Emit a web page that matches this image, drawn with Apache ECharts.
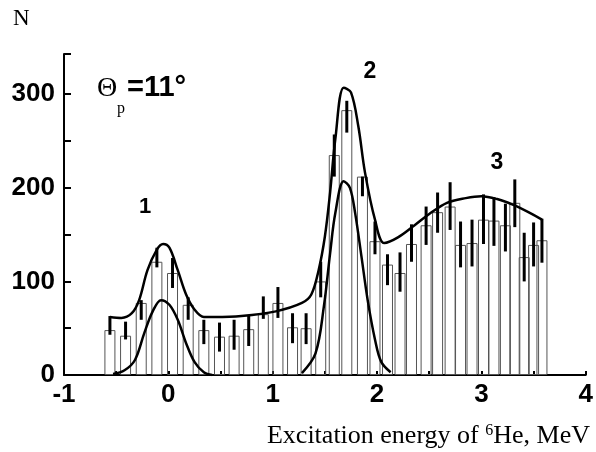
<!DOCTYPE html>
<html><head><meta charset="utf-8">
<script src="https://cdn.jsdelivr.net/npm/echarts@6/dist/echarts.min.js"></script>
<style>html,body{margin:0;padding:0;background:#fff}#c{width:596px;height:452px}</style>
</head><body><div id="c"></div>
<script>
// Histogram bins (MeV) and counts
const energy = [-0.56,-0.41,-0.26,-0.11,0.04,0.19,0.34,0.49,0.63,0.77,0.91,1.05,1.19,1.32,1.46,1.59,1.71,1.86,1.98,2.10,2.22,2.33,2.47,2.58,2.70,2.80,2.91,3.02,3.12,3.23,3.32,3.41,3.50,3.58];
const counts = [48,42,77,121,109,75,48,41,42,49,65,77,51,50,100,235,283,212,143,118,109,140,160,174,180,139,141,166,165,160,184,126,139,144];
// Error bar extents
const errLow  = [43,38,59,115,93,59,33,25,27,31,60,61,34,33,83,212,259,191,129,96,89,121,139,152,155,115,116,140,138,132,158,100,116,120];
const errHigh = [63,57,80,136,125,83,59,56,59,64,84,94,66,66,121,257,293,212,164,129,131,161,180,195,206,164,166,193,190,183,209,152,163,167];
// Total fit curve
const totalX = [-0.56,-0.45,-0.35,-0.28,-0.2,-0.11,-0.05,0.01,0.09,0.17,0.25,0.34,0.44,0.7,1.03,1.28,1.37,1.44,1.5,1.55,1.6,1.68,1.75,1.82,1.885,1.98,2.07,2.2,2.36,2.5,2.67,2.85,3.0,3.15,3.3,3.45,3.58];
const totalY = [62,61,66,80,112,134,140,136,112,86,70,62,62,63,68,77,86,112,148,195,252,307,302,266,216,166,141,147,160,172,184,189,191,188,182,174,166];
// Peak 1 component
const peak1X = [-0.53,-0.42,-0.32,-0.23,-0.15,-0.07,0.01,0.09,0.17,0.25,0.34,0.42];
const peak1Y = [1,5,16,45,68,80,75,59,34,14,3,0];
// Peak 2 component
const peak2X = [1.28,1.41,1.49,1.55,1.60,1.68,1.74,1.79,1.85,1.91,1.98,2.04,2.13];
const peak2Y = [2,23,73,130,173,207,200,173,127,80,38,14,3];
// Axis tick labels
const xLabels = ['-1','0','1','2','3','4'];
const yLabels = ['0','100','200','300'];

const zip = (a,b) => a.map((v,i)=>[v,b[i]]);
const chart = echarts.init(document.getElementById('c'), null, {renderer:'canvas'});
const boldFont = 'Liberation Sans, Arial, sans-serif';
const serif = 'Liberation Serif, Times New Roman, serif';

chart.setOption({
  animation:false,
  backgroundColor:'#fff',
  grid:{left:64,right:7,top:54,bottom:77,containLabel:false},
  xAxis:{type:'value',min:-1,max:4,interval:0.5,
    axisLine:{onZero:false,lineStyle:{color:'#000',width:2}},
    axisTick:{inside:true,length:4,lineStyle:{color:'#000',width:2}},
    splitLine:{show:false},
    axisLabel:{margin:7,fontFamily:boldFont,fontWeight:'bold',fontSize:26,color:'#000',
      formatter:v=>{const s=String(Math.round(v)); return (Math.abs(v-Math.round(v))<1e-6 && xLabels.includes(s))?s:'';}}
  },
  yAxis:{type:'value',min:0,max:343,interval:50,
    axisLine:{show:true,onZero:false,lineStyle:{color:'#000',width:2}},
    axisTick:{inside:true,length:7,lineStyle:{color:'#000',width:2}},
    splitLine:{show:false},
    axisLabel:{margin:9,fontFamily:boldFont,fontWeight:'bold',fontSize:26,color:'#000',
      formatter:v=>yLabels.includes(String(v))?String(v):''}
  },
  series:[
    {type:'bar',data:zip(energy,counts),barWidth:11,z:1,
      itemStyle:{color:'rgba(255,255,255,0)',borderColor:'#555',borderWidth:1}},
    {type:'line',data:zip(totalX,totalY),smooth:0.35,showSymbol:false,z:3,
      lineStyle:{color:'#000',width:2.5}},
    {type:'line',data:zip(peak1X,peak1Y),smooth:0.35,showSymbol:false,z:3,
      lineStyle:{color:'#000',width:2.5}},
    {type:'line',data:zip(peak2X,peak2Y),smooth:0.35,showSymbol:false,z:3,
      lineStyle:{color:'#000',width:2.5}},
    {type:'custom',z:4,data:energy.map((x,i)=>[x,errLow[i],errHigh[i]]),
      encode:{x:0,y:[1,2]},
      renderItem:(params,api)=>{
        const p1=api.coord([api.value(0),api.value(1)]);
        const p2=api.coord([api.value(0),api.value(2)]);
        return {type:'line',shape:{x1:p1[0],y1:p1[1],x2:p2[0],y2:p2[1]},style:{stroke:'#000',lineWidth:3}};
      }}
  ],
  graphic:[
    {type:'text',x:13,y:7,style:{text:'N',font:'23px '+serif,fill:'#000'}},
    {type:'text',x:97,y:75,style:{text:'Θ',font:'28px '+serif,fill:'#000'}},
    {type:'text',x:117,y:101,style:{text:'p',font:'16px '+serif,fill:'#000'}},
    {type:'text',x:127,y:73,style:{text:'=11°',font:'bold 29px '+boldFont,fill:'#000'}},
    {type:'text',x:145,y:207,style:{text:'1',font:'bold 22px '+boldFont,fill:'#000',align:'center',verticalAlign:'middle'}},
    {type:'text',x:370,y:72,style:{text:'2',font:'bold 23px '+boldFont,fill:'#000',align:'center',verticalAlign:'middle'}},
    {type:'text',x:497,y:163,style:{text:'3',font:'bold 23px '+boldFont,fill:'#000',align:'center',verticalAlign:'middle'}},
    {type:'text',right:6,top:423,style:{text:'Excitation energy of {s|6}He, MeV',font:'26px '+serif,fill:'#000',
      rich:{s:{fontSize:16,fontFamily:serif,verticalAlign:'top',padding:[0,0,10,0]}}}}
  ]
});
</script></body></html>
